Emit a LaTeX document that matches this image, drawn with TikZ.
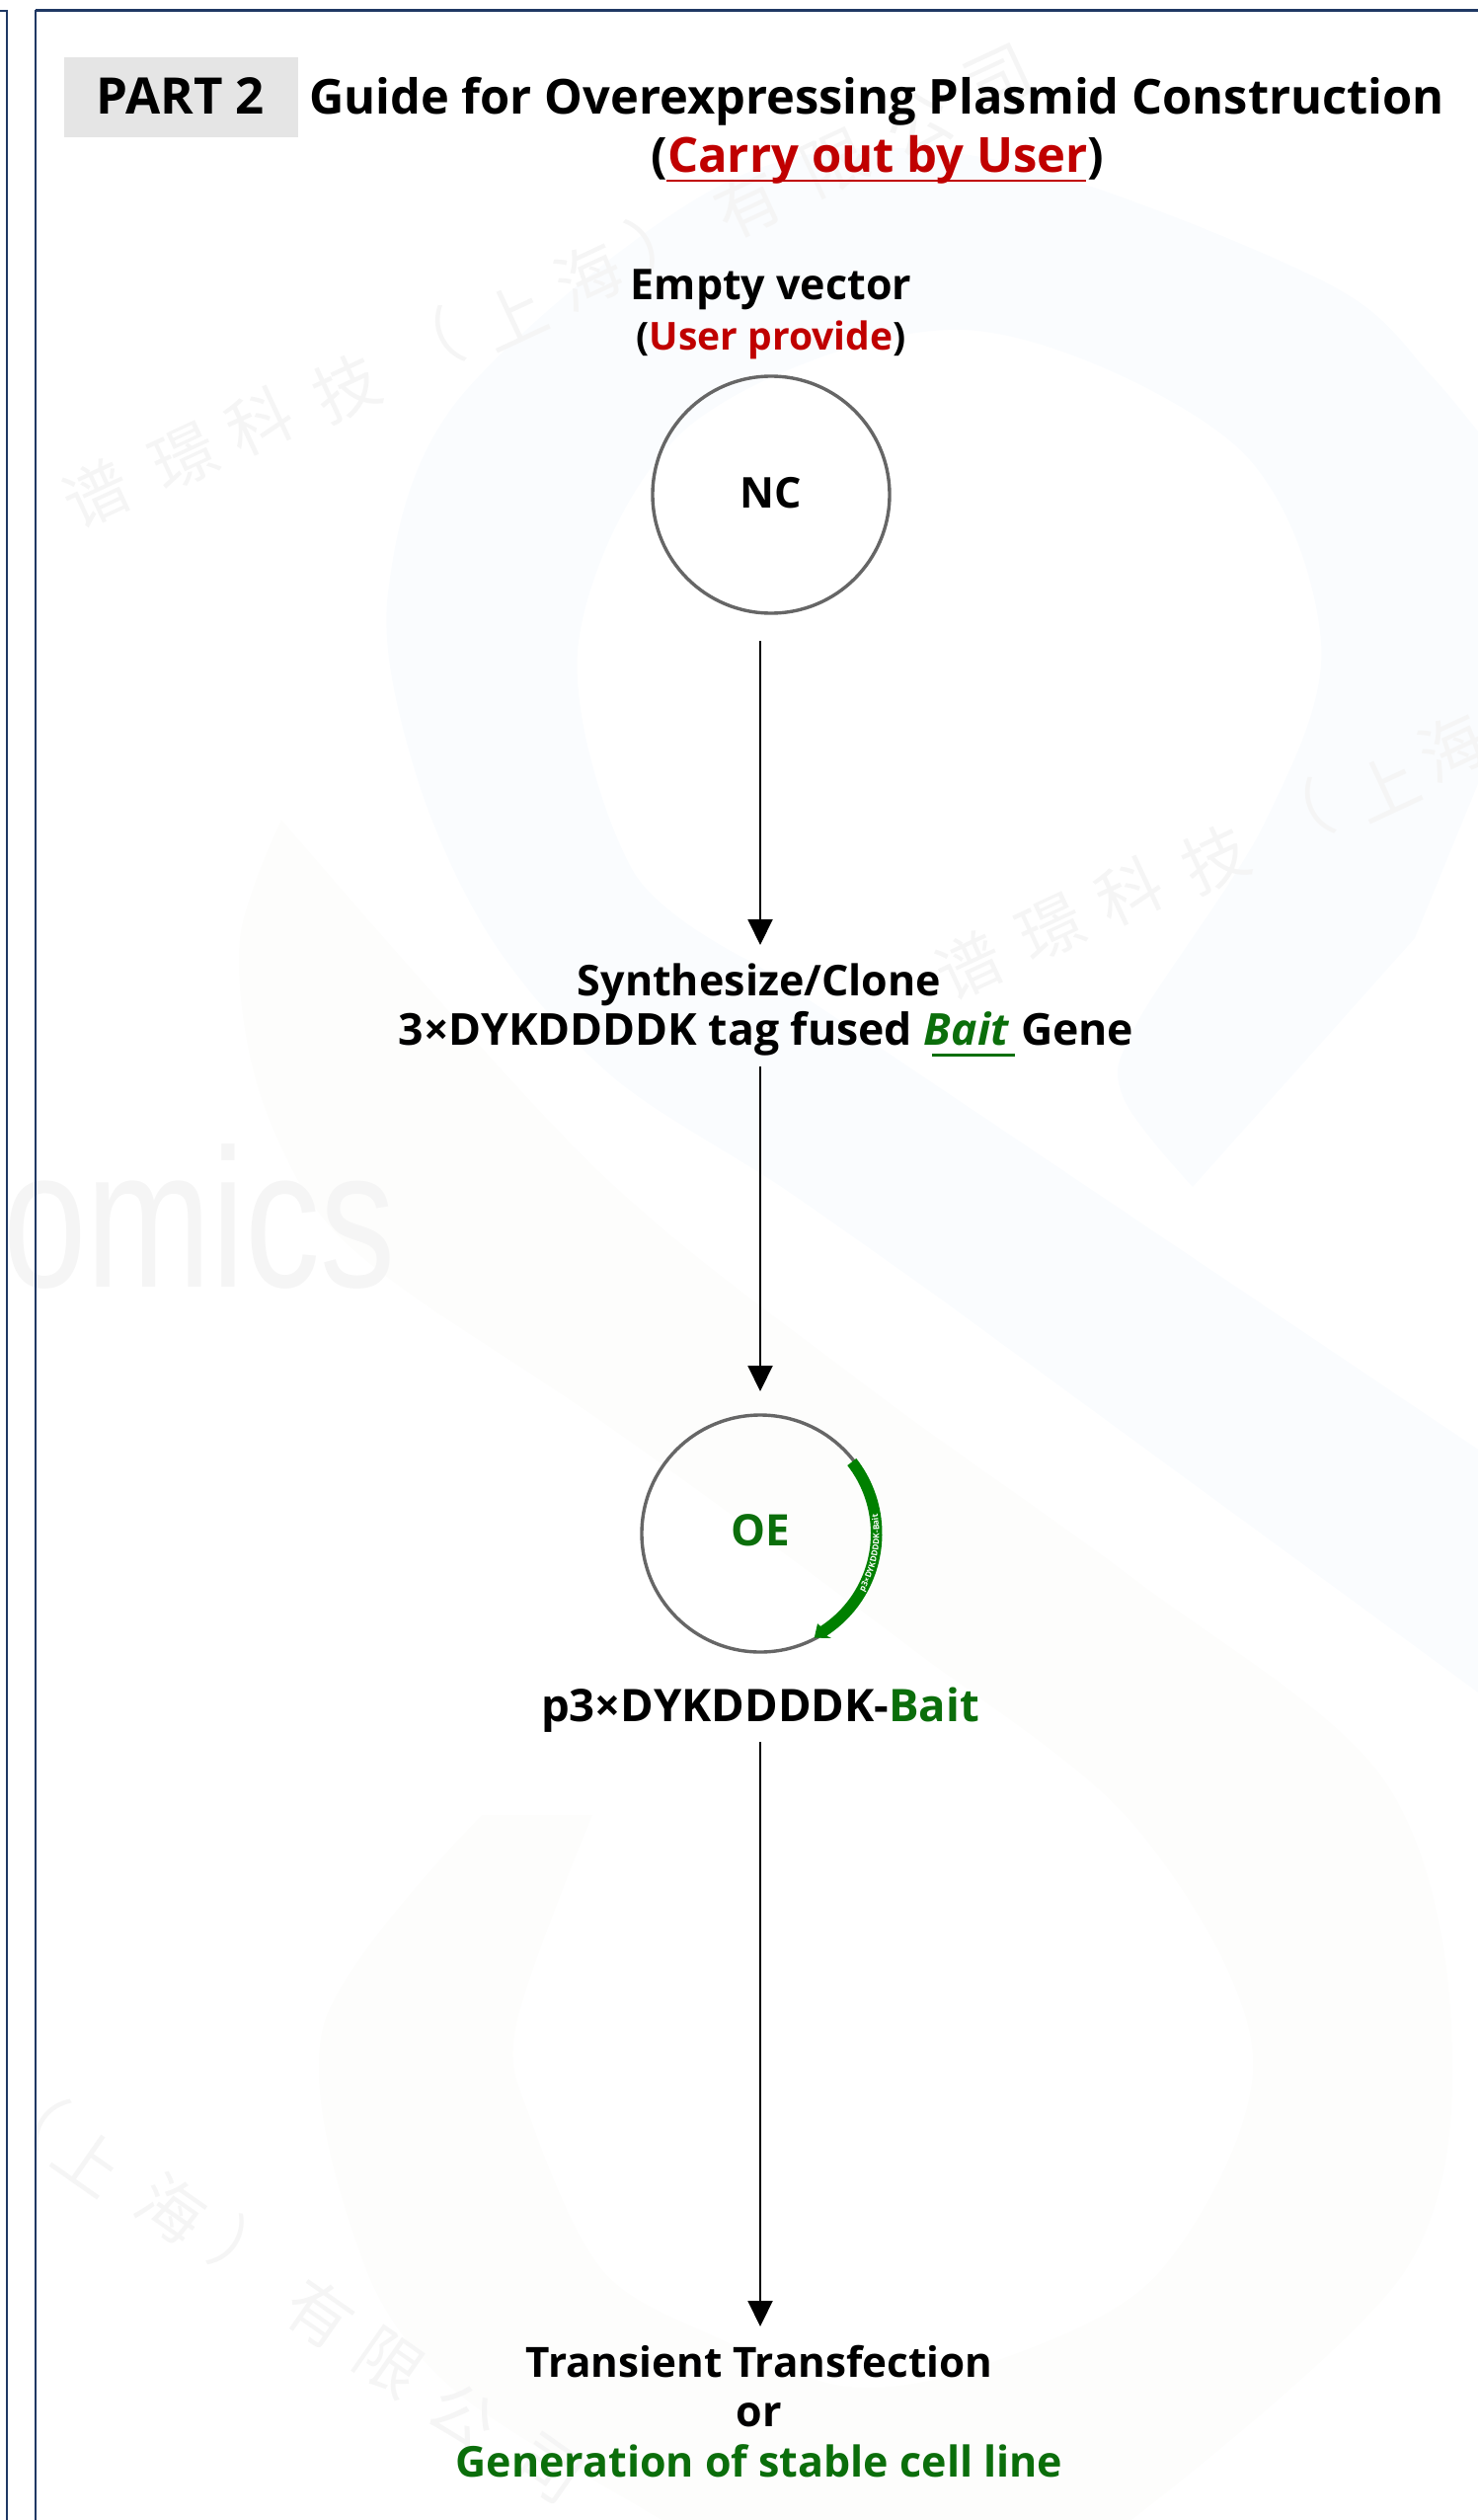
\documentclass[tikz,border=0pt]{standalone}
\usepackage{fontspec}
\setmainfont{Open Sans}[BoldFont={* Bold}]
\newfontfamily\cjkwm{Noto Sans CJK SC}
\newfontfamily\wmlatin{Liberation Sans}
\usetikzlibrary{arrows.meta,decorations.text}
\definecolor{framec}{HTML}{1F3864}
\definecolor{redc}{HTML}{C00000}
\definecolor{greenc}{HTML}{0B6E0B}
\definecolor{arcc}{HTML}{008000}
\definecolor{wm}{HTML}{F5F5F5}
\definecolor{blueb}{HTML}{FAFCFE}
\definecolor{yellowb}{HTML}{FDFDFC}
\tikzset{
  x=0.5pt,y=0.5pt,
  lab/.style={inner sep=0pt,outer sep=0pt,anchor=base,text height=15pt,text depth=5pt,font=\bfseries\fontsize{#1}{#1}\selectfont},
  plasmid/.style={circle,draw=black!60,line width=1.7pt,minimum size=120pt,inner sep=0pt,outer sep=0pt},
  flow/.style={draw=black,line width=1pt,-{Triangle[length=13pt,width=12.5pt]}},
  wmchar/.style={text=wm,inner sep=0pt,font=\cjkwm\fontsize{33}{33}\selectfont},
  frameline/.style={draw=framec,line join=miter}
}
\begin{document}
\begin{tikzpicture}
\useasboundingbox (0,0) rectangle (1497,-2552);
\begin{scope}
\clip (0,0) rectangle (1497,-2552);
% pale background logo
\fill[yellowb] plot[smooth,tension=0.55] coordinates {(285,-830)(243,-950)(258,-1090)(315,-1217)(401,-1300)(620,-1447)(920,-1667)(1150,-1850)(1269,-2083)(1175,-2300)(1003,-2393)(860,-2417)(726,-2367)(611,-2300)(539,-2150)(523,-2050)(600,-1838)}
 -- plot[smooth,tension=0.55] coordinates {(488,-1838)(328,-2050)(365,-2283)(456,-2417)(650,-2540)(760,-2600)}
 -- (1100,-2600) -- plot[smooth,tension=0.55] coordinates {(1146,-2552)(1423,-2300)(1470,-2050)(1400,-1800)(1150,-1600)(873,-1400)(600,-1180)(285,-830)} -- cycle;
\fill[blueb] plot[smooth,tension=0.55] coordinates {(1208,-1202)(1137,-1110)(1151,-1037)(1281,-833)(1338,-650)(1250,-450)(976,-334)(700,-430)(586,-650)(640,-880)(765,-976)}
 -- (1560,-1510) -- (1560,-1760) -- plot[smooth,tension=0.55] coordinates {(955,-1317)(793,-1203)(620,-1090)(497,-950)(420,-780)(393,-600)(468,-400)(745,-180)(1000,-160)(1337,-283)(1452,-383)(1560,-520)}
 -- (1560,-640) -- (1433,-950) -- cycle;
% watermarks
\foreach \c/\x/\y in {谱/98/500,璟/186/463,科/263/427,技/351/393,（/434/349,上/519/320,海/596/280,）/671/240,有/758/207,限/845/165,公/930/125,司/1012/80,谱/982/978,璟/1064/940,科/1144/903,技/1231/870,（/1315/827,上/1403/797,海/1471/757}
  \node[wmchar,rotate=25] at (\x,-\y) {\c};
\foreach \c/\x/\y in {（/32/2137,上/91/2188,海/174/2237,）/250/2283,有/324/2343,限/394/2393,公/469/2447,司/556/2500}
  \node[wmchar,rotate=-35] at (\x,-\y) {\c};
\node[anchor=base west,inner sep=0pt,text=wm,xscale=0.76,font=\wmlatin\fontsize{100}{100}\selectfont] (wmomics) at (3,-1303) {omics};
\end{scope}
% frames
\draw[frameline,line width=1.2pt] (0,-11) -- (7,-11) -- (7,-2552);
\draw[frameline,line width=1.2pt] (36,-2552) -- (36,-11) -- (1497,-11);
\draw[framec,line width=1.5pt] (36,-11) -- (1497,-11);
% title
\node[fill=black!10,inner sep=0pt,minimum width=118.5pt,minimum height=40.5pt] (partbox) at (183.5,-98.5) {};
\node[lab=25.5] (part) at (183,-116) {PART 2};
\node[lab=24.4,anchor=base west] (title) at (313,-116) {Guide for Overexpressing Plasmid Construction};
\node[lab=24.5] (sub) at (889,-174.5) {(\textcolor{redc}{Carry out by User})};
\draw[redc,line width=1.2pt] (675,-183) -- (1100,-183);
% top
\node[lab=21.5] (empty) at (781,-304) {Empty vector};
\node[lab=19.5] (provide) at (781,-355) {(\textcolor{redc}{User provide})};
\node[plasmid] (nc) at (781,-501) {};
\node[lab=21.5] (nct) at (781,-514) {NC};
% synth
\node[lab=21.5] (synth1) at (769,-1008) {Synthesize/Clone};
\node[lab=22.3] (synth2) at (776,-1058) {3×DYKDDDDK tag fused \textcolor{greenc}{\textit{Bait}} Gene};
\draw[greenc,line width=1.5pt] (944,-1068) -- (1028,-1068);
% OE
\node[plasmid] (oe) at (770,-1553) {};
\node[lab=22,text=greenc] (oet) at (770,-1565) {OE};
\fill[arcc] ([shift={(770,-1553)}]38:112) arc[start angle=38,end angle=-57,radius=112]
  -- ([shift={(770,-1553)}]-57.5:108) -- ([shift={(770,-1553)}]-62.6:119) -- ([shift={(770,-1553)}]-55.8:128)
  -- ([shift={(770,-1553)}]-57:123.5) arc[start angle=-57,end angle=38,radius=123.5] -- cycle;
\path[postaction={decorate,decoration={text along path,text align=center,text={|\fontsize{4.2}{4.2}\selectfont\bfseries\color{white}|p3×DYKDDDDK-Bait}}}]
  ([shift={(770,-1553)}]-32:120.5) arc[start angle=-32,end angle=12,radius=120.5];
% plasmid label
\node[lab=22.75] (plab) at (770,-1743) {p3×DYKDDDDK-\textcolor{greenc}{Bait}};
% bottom
\node[lab=21.1] (t1) at (769,-2407) {Transient Transfection};
\node[lab=21.5] (t2) at (769,-2457) {or};
\node[lab=21.5,text=greenc] (t3) at (769,-2508) {Generation of stable cell line};
% connectors
\draw[flow,shorten <=14pt,shorten >=10.5pt] (nc.south -| oe.center) -- (synth1.north -| oe.center);
\draw[flow,shorten <=6pt,shorten >=12pt] (synth2.south -| oe.center) -- (oe.north);
\draw[flow,shorten <=5.5pt,shorten >=10.5pt] (plab.south -| oe.center) -- (t1.north -| oe.center);
\end{tikzpicture}
\end{document}
